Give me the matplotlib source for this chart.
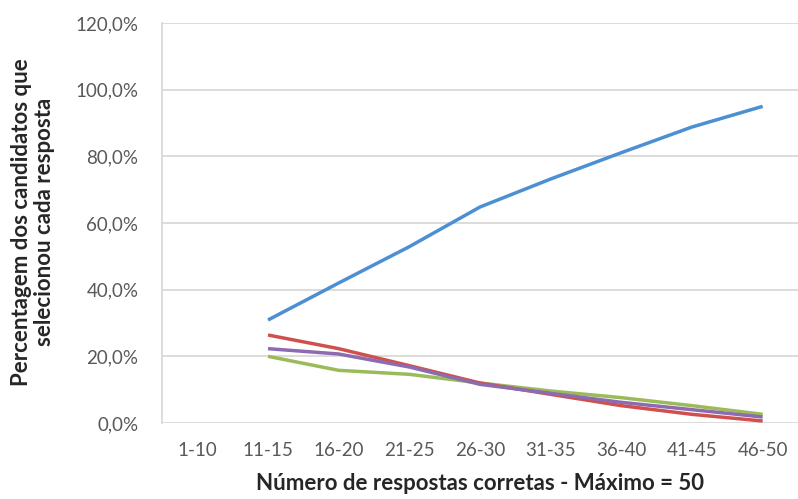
import matplotlib
matplotlib.use("Agg")
import matplotlib.pyplot as plt
from matplotlib.ticker import FuncFormatter

# Score bands (number of correct answers out of 50)
bands = ["1-10", "11-15", "16-20", "21-25", "26-30", "31-35", "36-40", "41-45", "46-50"]

# Share of candidates choosing each option, per band (first band has no data)
blue = [None, 30.9, 42.0, 52.9, 64.8, 73.2, 81.1, 88.8, 95.0]
red = [None, 26.4, 22.3, 17.2, 12.0, 8.6, 5.2, 2.6, 0.6]
purple = [None, 22.3, 20.7, 16.8, 11.6, 8.9, 6.2, 4.0, 1.8]
green = [None, 20.0, 15.8, 14.6, 12.0, 9.6, 7.6, 5.2, 2.6]

y_ticks = [0, 20, 40, 60, 80, 100, 120]

plt.rcParams["font.family"] = ["Lato", "DejaVu Sans"]

W, H = 798, 499
fig = plt.figure(figsize=(W / 100, H / 100), dpi=100)
ax = fig.add_axes([162 / W, (H - 423) / H, (W - 162) / W, 400 / H])

x = list(range(len(bands)))
series = [(blue, "#4D8FD3"), (green, "#9BBB59"), (red, "#D0504D"), (purple, "#8C6BB1")]
for vals, col in series:
    xs = [i for i, v in zip(x, vals) if v is not None]
    ys = [v / 100 for v in vals if v is not None]
    ax.plot(xs, ys, color=col, lw=2.5, solid_capstyle="butt", zorder=3)

ax.set_xlim(-0.5, len(bands) - 0.5)
ax.set_ylim(0, 1.2)
ax.set_yticks([t / 100 for t in y_ticks])
ax.yaxis.set_major_formatter(FuncFormatter(lambda v, p: f"{v * 100:.1f}%".replace(".", ",")))
ax.set_xticks(x)
ax.set_xticklabels(bands)

ax.grid(axis="y", color="#D9D9D9", lw=1.3, zorder=0)
for s in ["top", "right", "bottom"]:
    ax.spines[s].set_visible(False)
ax.spines["left"].set_color("#D9D9D9")
ax.spines["left"].set_linewidth(1.3)
ax.tick_params(length=0, labelsize=13.5, labelcolor="#595959")
ax.tick_params(axis="y", pad=17)
ax.tick_params(axis="x", pad=14)

fig.text(33 / W, 1 - 222 / H, "Percentagem dos candidatos que\nselecionou cada resposta",
         rotation=90, ha="center", va="center", fontsize=16, fontweight="bold",
         color="#262626", linespacing=1.15)
fig.text(480 / W, 1 - 484 / H, "Número de respostas corretas - Máximo = 50",
         ha="center", va="center", fontsize=16, fontweight="bold", color="#262626")

fig.savefig("out.png", dpi=100)
